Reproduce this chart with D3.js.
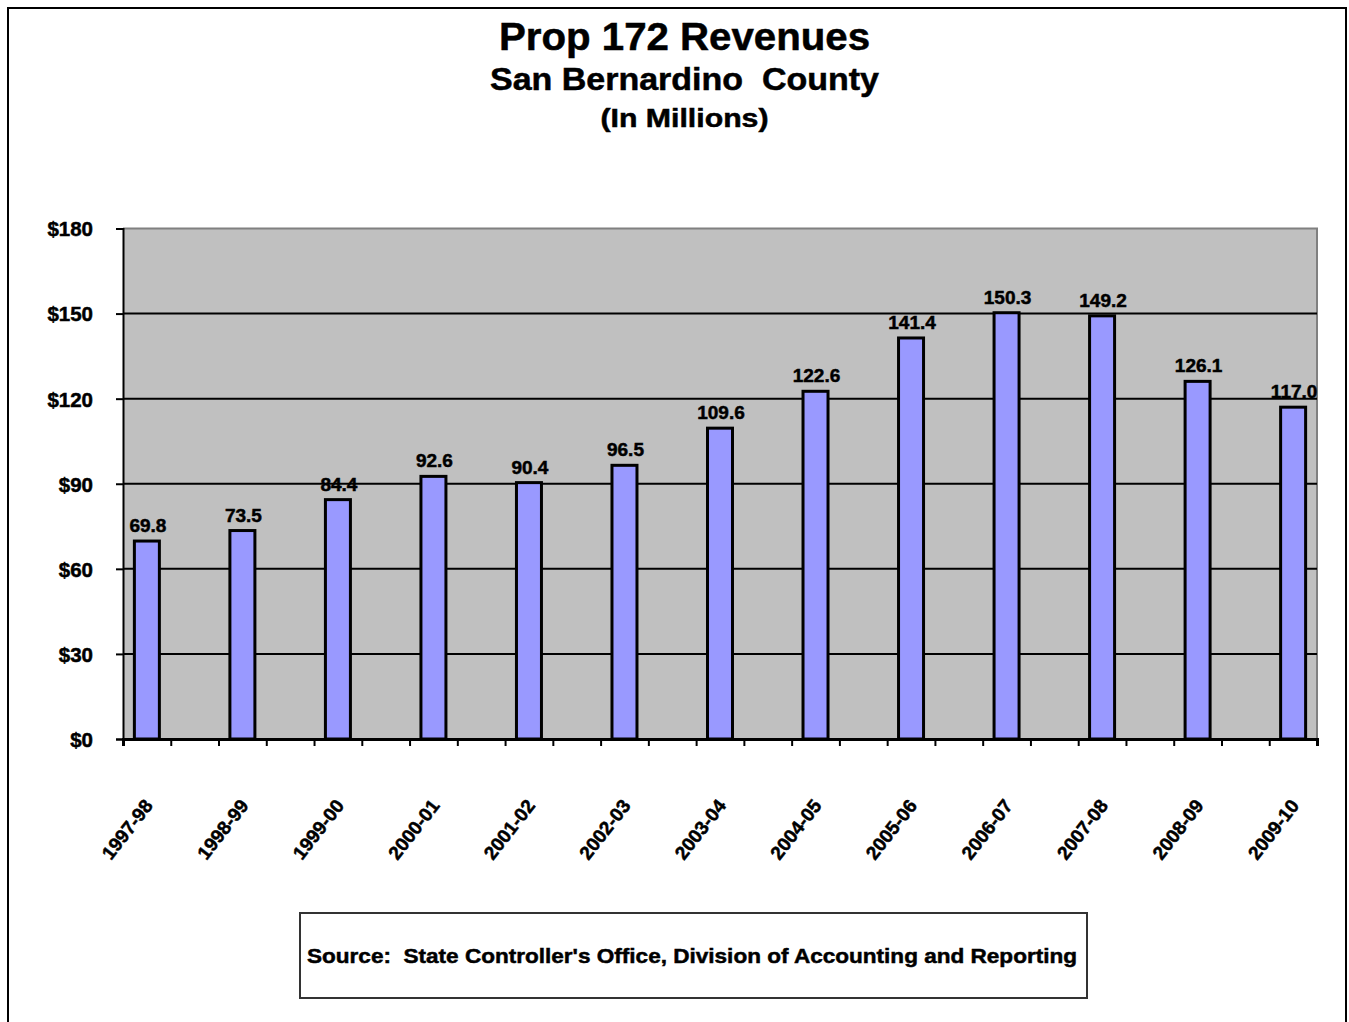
<!DOCTYPE html>
<html>
<head>
<meta charset="utf-8">
<script src="https://cdn.jsdelivr.net/npm/d3@7"></script>
<style>
  html, body { margin: 0; padding: 0; background: #fff; }
  svg { display: block; }
  text { font-family: "Liberation Sans", Arial, Helvetica, sans-serif; font-weight: bold; fill: #000;
         stroke: #000; stroke-width: 0.5px; white-space: pre; }
</style>
</head>
<body>
<script>
// Fiscal years and Prop 172 revenues (millions of dollars)
const years = ["1997-98", "1998-99", "1999-00", "2000-01", "2001-02", "2002-03", "2003-04",
               "2004-05", "2005-06", "2006-07", "2007-08", "2008-09", "2009-10"];
const revenues = [69.8, 73.5, 84.4, 92.6, 90.4, 96.5, 109.6, 122.6, 141.4, 150.3, 149.2, 126.1, 117.0];
const yTicks = [0, 30, 60, 90, 120, 150, 180];
const titleLines = ["Prop 172 Revenues", "San Bernardino  County", "(In Millions)"];
const sourceNote = "Source:  State Controller's Office, Division of Accounting and Reporting";

const W = 1349, H = 1022;
const plot = { left: 123, right: 1317, top: 228.5, bottom: 739 };

const svg = d3.select("body").append("svg").attr("width", W).attr("height", H);

// outer frame
svg.append("rect").attr("x", 8).attr("y", 8).attr("width", 1338).attr("height", 1030)
  .attr("fill", "#fff").attr("stroke", "#000").attr("stroke-width", 2);

// titles
const titleCfg = [
  { size: 38, y: 50, len: 371 },
  { size: 31, y: 90, len: 389 },
  { size: 25, y: 127, len: 168 }
];
titleLines.forEach((t, i) => {
  svg.append("text")
    .attr("x", 684.5).attr("y", titleCfg[i].y)
    .attr("text-anchor", "middle")
    .attr("font-size", titleCfg[i].size)
    .attr("textLength", titleCfg[i].len)
    .attr("lengthAdjust", "spacingAndGlyphs")
    .text(t);
});

// slots: each year sits in every other band, with an empty band between years
const slots = d3.range(years.length * 2 - 1);
const x = d3.scaleBand().domain(slots).range([plot.left, plot.right]);
const xTick = d3.scaleLinear().domain([0, slots.length]).range([plot.left, plot.right]);
const y = d3.scaleLinear().domain([0, 180]).range([plot.bottom, plot.top]);

// plot background
svg.append("rect")
  .attr("x", plot.left).attr("y", plot.top)
  .attr("width", plot.right - plot.left).attr("height", plot.bottom - plot.top)
  .attr("fill", "#C0C0C0");

// plot border on top and right
svg.append("path")
  .attr("d", `M${plot.left},${plot.top}H${plot.right}V${plot.bottom}`)
  .attr("fill", "none").attr("stroke", "#808080").attr("stroke-width", 2);

// horizontal gridlines
svg.append("g").selectAll("line")
  .data(yTicks.filter(d => d > 0 && d < 180))
  .join("line")
  .attr("x1", plot.left).attr("x2", plot.right)
  .attr("y1", d => y(d)).attr("y2", d => y(d))
  .attr("stroke", "#000").attr("stroke-width", 2);

// y axis
const yAxis = svg.append("g")
  .attr("transform", `translate(${plot.left},0)`)
  .call(d3.axisLeft(y).tickValues(yTicks).tickSize(7).tickPadding(23).tickFormat(d => "$" + d));
yAxis.select(".domain").attr("stroke", "#000").attr("stroke-width", 2);
yAxis.selectAll(".tick line").attr("stroke", "#000").attr("stroke-width", 2);
yAxis.selectAll(".tick text")
  .attr("font-size", 20.5).attr("font-family", null).attr("fill", "#000")
  .attr("dy", "0.36em");

// bars
const cx = i => x(i * 2) + x.bandwidth() / 2;
const barW = 25;
svg.append("g").selectAll("rect")
  .data(revenues)
  .join("rect")
  .attr("x", (d, i) => cx(i) - barW / 2)
  .attr("width", barW)
  .attr("y", d => y(d))
  .attr("height", d => y(0) - y(d))
  .attr("fill", "#9999FF")
  .attr("stroke", "#000").attr("stroke-width", 3);

// value labels
svg.append("g").selectAll("text")
  .data(revenues)
  .join("text")
  .attr("x", (d, i) => cx(i) + 1)
  .attr("y", d => y(d) - 9)
  .attr("text-anchor", "middle")
  .attr("font-size", 19)
  .text(d => d.toFixed(1));

// x axis with tick marks at every band edge
const xAxis = svg.append("g")
  .attr("transform", `translate(0,${plot.bottom})`)
  .call(d3.axisBottom(xTick).tickValues(d3.range(slots.length + 1)).tickSize(7).tickFormat(""));
xAxis.select(".domain").attr("stroke", "#000").attr("stroke-width", 3);
xAxis.selectAll(".tick line").attr("stroke", "#000").attr("stroke-width", 2);

// rotated category labels
svg.append("g").selectAll("text")
  .data(years)
  .join("text")
  .attr("text-anchor", "end")
  .attr("font-size", 19)
  .attr("transform", (d, i) => `translate(${cx(i) + 7},806) rotate(-52)`)
  .text(d => d);

// source note box
svg.append("rect")
  .attr("x", 300).attr("y", 913).attr("width", 787).attr("height", 85)
  .attr("fill", "#fff").attr("stroke", "#333").attr("stroke-width", 2);
svg.append("text")
  .attr("x", 692).attr("y", 963)
  .attr("text-anchor", "middle")
  .attr("font-size", 21)
  .attr("textLength", 770)
  .attr("lengthAdjust", "spacingAndGlyphs")
  .text(sourceNote);
</script>
</body>
</html>
